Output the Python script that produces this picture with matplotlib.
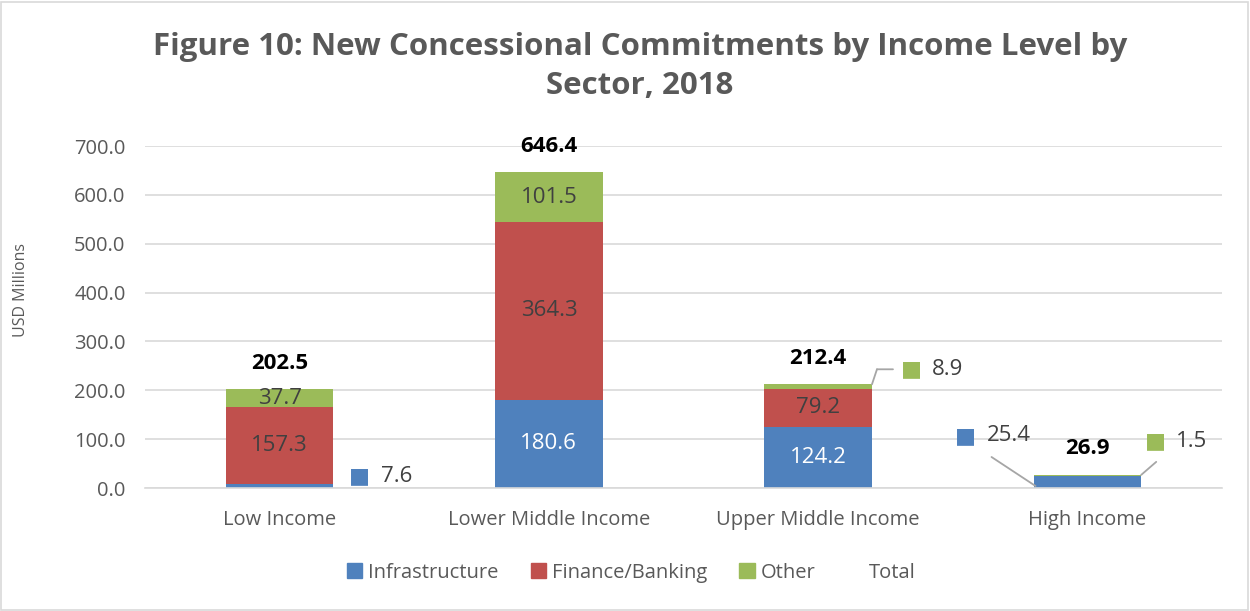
import matplotlib.pyplot as plt
from matplotlib.patches import Patch, Rectangle
from matplotlib.transforms import offset_copy
import numpy as np

plt.rcParams['font.family'] = ['Open Sans', 'DejaVu Sans']

categories = ['Low Income', 'Lower Middle Income', 'Upper Middle Income', 'High Income']
infrastructure = [7.6, 180.6, 124.2, 25.4]
finance = [157.3, 364.3, 79.2, 0.0]
other = [37.7, 101.5, 8.9, 1.5]
totals = [202.5, 646.4, 212.4, 26.9]

c_inf = '#4F81BD'
c_fin = '#C0504D'
c_oth = '#9BBB59'
txt = '#404040'
grey = '#595959'
lead = '#A6A6A6'

fig = plt.figure(figsize=(12.5, 6.11), dpi=100)
ax = fig.add_axes([0.116, 0.2013, 0.8616, 0.5597])
fig.patches.append(Rectangle((0.001, 0.002), 0.997, 0.995, transform=fig.transFigure,
                             fill=False, edgecolor='#D9D9D9', lw=1.2))

x = np.arange(len(categories))
w = 0.4
inf = np.array(infrastructure)
fin = np.array(finance)
oth = np.array(other)
ax.bar(x, inf, w, color=c_inf, zorder=2)
ax.bar(x, fin, w, bottom=inf, color=c_fin, zorder=2)
ax.bar(x, oth, w, bottom=inf + fin, color=c_oth, zorder=2)

ax.set_xlim(-0.5, 3.5)
ax.set_ylim(0, 700)
ax.set_yticks(np.arange(0, 701, 100))
ax.set_yticklabels(['%.1f' % v for v in np.arange(0, 701, 100)])
ax.set_xticks(x)
ax.set_xticklabels(categories)
ax.tick_params(axis='both', length=0, labelsize=14.5, colors=grey)
ax.tick_params(axis='y', pad=14)
ax.tick_params(axis='x', pad=16)
ax.grid(axis='y', color='#D9D9D9', lw=1.2, zorder=0)
for s in ['top', 'right', 'left']:
    ax.spines[s].set_visible(False)
ax.spines['bottom'].set_color('#D9D9D9')
ax.spines['bottom'].set_linewidth(1.2)
ax.set_ylabel('USD Millions', fontsize=11.5, color=grey)
ax.yaxis.set_label_coords(-0.108, 0.58)

fs = 16
# labels inside bars
inside = [(0, inf[0] + fin[0] / 2, fin[0], txt), (0, inf[0] + fin[0] + oth[0] / 2, oth[0], txt),
          (1, inf[1] / 2, inf[1], 'white'), (1, inf[1] + fin[1] / 2, fin[1], txt),
          (1, inf[1] + fin[1] + oth[1] / 2, oth[1], txt),
          (2, inf[2] / 2, inf[2], 'white'), (2, inf[2] + fin[2] / 2, fin[2], txt)]
for xi, yi, v, col in inside:
    ax.text(xi, yi, '%.1f' % v, ha='center', va='center', fontsize=fs, color=col, zorder=3)

# totals
for xi, t in zip(x, totals):
    ax.annotate('%.1f' % t, (xi, t), xytext=(0, 26), textcoords='offset pixels',
                ha='center', va='center', fontsize=fs, fontweight='bold', color='black')


def callout(anchor, dx, dy, val, col):
    ax.annotate('\u25A0', anchor, xytext=(dx, dy), textcoords='offset pixels',
                ha='center', va='center', fontsize=16, color=col, family='DejaVu Sans',
                annotation_clip=False)
    ax.annotate('%.1f' % val, anchor, xytext=(dx + 21, dy), textcoords='offset pixels',
                ha='left', va='center', fontsize=fs, color=txt, annotation_clip=False)


def leader(anchor, p0, p1):
    tr = offset_copy(ax.transData, fig=fig, x=p0[0], y=p0[1], units='dots')
    ax.annotate('', xy=anchor, xycoords=tr, xytext=(p1[0] - p0[0], p1[1] - p0[1]),
                textcoords='offset pixels',
                arrowprops=dict(arrowstyle='-', color=lead, lw=1.3, shrinkA=0, shrinkB=0))


callout((0, inf[0] / 2), 80, 10, inf[0], c_inf)
top2 = inf[2] + fin[2] + oth[2]
callout((2, inf[2] + fin[2] + oth[2] / 2), 93, 17, oth[2], c_oth)
leader((2 + w / 2, top2), (0, 0), (5, 15))
leader((2 + w / 2, top2), (5, 15), (21, 15))
callout((3, inf[3] / 2), -122, 46, inf[3], c_inf)
leader((3 - w / 2, 0), (2, 2), (-42, 31))
callout((3, inf[3] + oth[3] / 2), 68, 34, oth[3], c_oth)
leader((3 + w / 2, totals[3]), (0, 0), (15, 13))

fig.text(0.512, 0.891, 'Figure 10: New Concessional Commitments by Income Level by\nSector, 2018',
         ha='center', va='center', fontsize=22.5, fontweight='bold', color=grey, linespacing=1.38)

handles = [Patch(color=c_inf), Patch(color=c_fin), Patch(color=c_oth),
           Patch(facecolor='none', edgecolor='none')]
fig.legend(handles, ['Infrastructure', 'Finance/Banking', 'Other', 'Total'],
           loc='center', bbox_to_anchor=(0.505, 0.063), ncol=4, frameon=False,
           fontsize=14.5, labelcolor=grey, handlelength=0.75, handleheight=0.75,
           handletextpad=0.3, columnspacing=1.6)

fig.savefig('out.png', dpi=100)
